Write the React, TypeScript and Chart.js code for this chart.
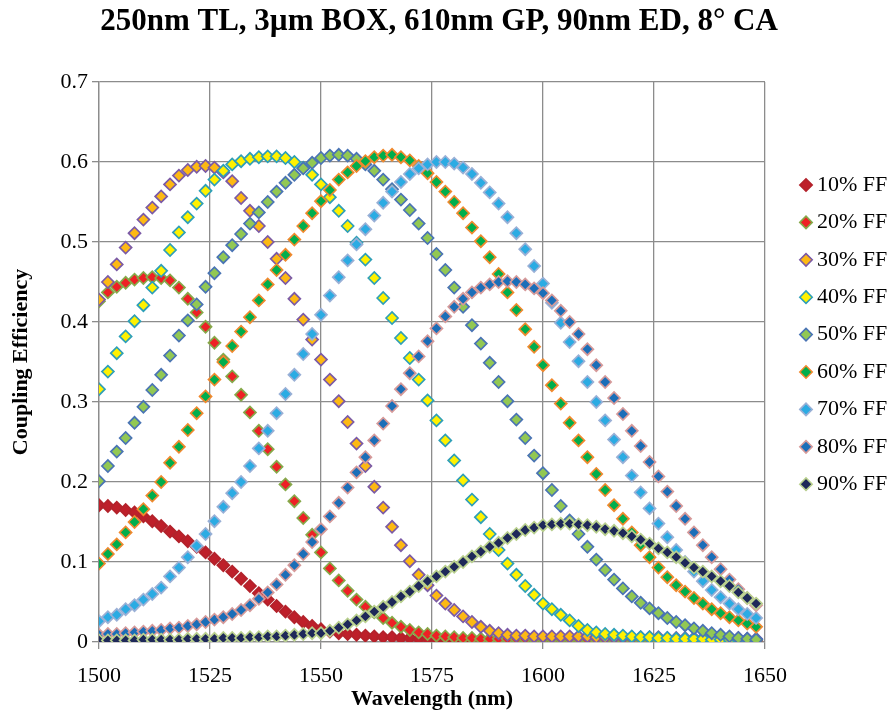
import React, { useEffect, useRef } from 'react';
import { Chart, registerables } from 'chart.js';

Chart.register(...registerables);

const titleText = '250nm TL, 3µm BOX, 610nm GP, 90nm ED, 8° CA';
const xTitle = 'Wavelength (nm)';
const yTitle = 'Coupling Efficiency';

const wavelengths = [
  1500, 1502, 1504, 1506, 1508, 1510, 1512, 1514, 1516, 1518,
  1520, 1522, 1524, 1526, 1528, 1530, 1532, 1534, 1536, 1538,
  1540, 1542, 1544, 1546, 1548, 1550, 1552, 1554, 1556, 1558,
  1560, 1562, 1564, 1566, 1568, 1570, 1572, 1574, 1576, 1578,
  1580, 1582, 1584, 1586, 1588, 1590, 1592, 1594, 1596, 1598,
  1600, 1602, 1604, 1606, 1608, 1610, 1612, 1614, 1616, 1618,
  1620, 1622, 1624, 1626, 1628, 1630, 1632, 1634, 1636, 1638,
  1640, 1642, 1644, 1646, 1648,
];

const xTickValues = [1500, 1525, 1550, 1575, 1600, 1625, 1650];
const yTickValues = [0, 0.1, 0.2, 0.3, 0.4, 0.5, 0.6, 0.7];

const seriesLabels = ['10% FF', '20% FF', '30% FF', '40% FF', '50% FF', '60% FF', '70% FF', '80% FF', '90% FF'];

const ff10 = [
  0.171, 0.170, 0.168, 0.165, 0.162, 0.157, 0.151, 0.145, 0.138, 0.132,
  0.126, 0.119, 0.112, 0.104, 0.096, 0.088, 0.079, 0.070, 0.061, 0.053,
  0.045, 0.038, 0.031, 0.025, 0.020, 0.016, 0.013, 0.011, 0.010, 0.009,
  0.008, 0.007, 0.006, 0.006, 0.005, 0.005, 0.004, 0.004, 0.004, 0.003,
  0.003, 0.003, 0.003, 0.003, 0.003, 0.003, 0.003, 0.003, 0.003, 0.003,
  0.003, 0.003, 0.003, 0.002, 0.002, 0.002, 0.002, 0.002, 0.002, 0.002,
  0.002, 0.002, 0.002, 0.002, 0.002, 0.002, 0.002, 0.002, 0.002, 0.002,
  0.002, 0.002, 0.002, 0.002, 0.002,
];
const ff20 = [
  0.426, 0.437, 0.444, 0.449, 0.453, 0.455, 0.456, 0.455, 0.452, 0.443,
  0.429, 0.412, 0.394, 0.374, 0.353, 0.332, 0.309, 0.287, 0.264, 0.241,
  0.219, 0.197, 0.176, 0.155, 0.134, 0.112, 0.092, 0.077, 0.064, 0.053,
  0.044, 0.037, 0.030, 0.024, 0.019, 0.015, 0.012, 0.010, 0.008, 0.007,
  0.006, 0.005, 0.005, 0.004, 0.004, 0.004, 0.004, 0.004, 0.004, 0.004,
  0.004, 0.004, 0.004, 0.004, 0.004, 0.003, 0.003, 0.003, 0.003, 0.003,
  0.003, 0.003, 0.003, 0.003, 0.003, 0.003, 0.003, 0.003, 0.003, 0.003,
  0.003, 0.003, 0.003, 0.003, 0.003,
];
const ff30 = [
  0.428, 0.450, 0.472, 0.493, 0.511, 0.528, 0.543, 0.557, 0.572, 0.583,
  0.590, 0.594, 0.595, 0.593, 0.587, 0.576, 0.555, 0.539, 0.520, 0.500,
  0.479, 0.455, 0.429, 0.403, 0.378, 0.353, 0.328, 0.301, 0.275, 0.248,
  0.220, 0.194, 0.168, 0.144, 0.121, 0.101, 0.084, 0.071, 0.058, 0.048,
  0.040, 0.032, 0.025, 0.019, 0.014, 0.011, 0.009, 0.008, 0.008, 0.007,
  0.007, 0.007, 0.007, 0.007, 0.007, 0.007, 0.006, 0.006, 0.006, 0.006,
  0.006, 0.006, 0.006, 0.006, 0.005, 0.005, 0.005, 0.005, 0.005, 0.005,
  0.005, 0.005, 0.005, 0.004, 0.004,
];
const ff40 = [
  0.316, 0.338, 0.361, 0.382, 0.401, 0.421, 0.443, 0.464, 0.490, 0.512,
  0.531, 0.548, 0.564, 0.578, 0.589, 0.597, 0.601, 0.604, 0.606, 0.607,
  0.607, 0.605, 0.600, 0.593, 0.584, 0.572, 0.556, 0.539, 0.520, 0.499,
  0.478, 0.455, 0.430, 0.405, 0.380, 0.355, 0.328, 0.302, 0.277, 0.252,
  0.227, 0.202, 0.178, 0.156, 0.135, 0.115, 0.098, 0.084, 0.070, 0.059,
  0.048, 0.041, 0.034, 0.027, 0.020, 0.015, 0.012, 0.010, 0.009, 0.008,
  0.007, 0.006, 0.006, 0.005, 0.005, 0.004, 0.004, 0.004, 0.004, 0.003,
  0.003, 0.003, 0.003, 0.003, 0.003,
];
const ff50 = [
  0.201, 0.220, 0.238, 0.255, 0.274, 0.294, 0.315, 0.334, 0.358, 0.383,
  0.402, 0.422, 0.444, 0.461, 0.481, 0.496, 0.510, 0.523, 0.537, 0.550,
  0.563, 0.574, 0.584, 0.592, 0.599, 0.605, 0.608, 0.609, 0.608, 0.604,
  0.597, 0.589, 0.578, 0.566, 0.553, 0.540, 0.523, 0.505, 0.485, 0.465,
  0.443, 0.419, 0.396, 0.373, 0.349, 0.325, 0.301, 0.278, 0.255, 0.233,
  0.211, 0.190, 0.170, 0.152, 0.135, 0.119, 0.103, 0.090, 0.078, 0.067,
  0.057, 0.049, 0.042, 0.036, 0.030, 0.025, 0.021, 0.017, 0.014, 0.011,
  0.009, 0.007, 0.005, 0.004, 0.003,
];
const ff60 = [
  0.098, 0.110, 0.122, 0.137, 0.150, 0.166, 0.183, 0.200, 0.224, 0.244,
  0.265, 0.286, 0.307, 0.328, 0.350, 0.370, 0.388, 0.406, 0.427, 0.447,
  0.465, 0.484, 0.503, 0.520, 0.536, 0.551, 0.565, 0.578, 0.587, 0.595,
  0.601, 0.606, 0.608, 0.609, 0.606, 0.602, 0.595, 0.586, 0.575, 0.563,
  0.550, 0.536, 0.518, 0.501, 0.481, 0.460, 0.437, 0.415, 0.391, 0.369,
  0.346, 0.321, 0.298, 0.274, 0.252, 0.231, 0.210, 0.190, 0.171, 0.154,
  0.137, 0.121, 0.106, 0.093, 0.081, 0.071, 0.063, 0.055, 0.048, 0.041,
  0.036, 0.031, 0.027, 0.023, 0.019,
];
const ff70 = [
  0.026, 0.031, 0.034, 0.041, 0.046, 0.053, 0.060, 0.068, 0.082, 0.093,
  0.106, 0.120, 0.135, 0.151, 0.169, 0.186, 0.200, 0.220, 0.242, 0.264,
  0.286, 0.310, 0.334, 0.360, 0.385, 0.409, 0.433, 0.456, 0.477, 0.497,
  0.516, 0.533, 0.549, 0.563, 0.575, 0.585, 0.592, 0.597, 0.600, 0.600,
  0.598, 0.593, 0.585, 0.574, 0.562, 0.548, 0.531, 0.511, 0.491, 0.470,
  0.448, 0.424, 0.399, 0.375, 0.351, 0.325, 0.300, 0.277, 0.253, 0.231,
  0.208, 0.187, 0.167, 0.148, 0.131, 0.115, 0.100, 0.088, 0.076, 0.065,
  0.056, 0.048, 0.041, 0.035, 0.030,
];
const ff80 = [
  0.009, 0.010, 0.010, 0.011, 0.012, 0.013, 0.014, 0.015, 0.017, 0.018,
  0.020, 0.022, 0.025, 0.028, 0.031, 0.035, 0.040, 0.046, 0.054, 0.062,
  0.072, 0.084, 0.096, 0.110, 0.125, 0.141, 0.157, 0.174, 0.193, 0.212,
  0.231, 0.252, 0.273, 0.295, 0.316, 0.336, 0.357, 0.376, 0.392, 0.407,
  0.419, 0.429, 0.437, 0.443, 0.447, 0.450, 0.451, 0.450, 0.447, 0.442,
  0.436, 0.427, 0.414, 0.400, 0.385, 0.366, 0.346, 0.325, 0.305, 0.285,
  0.264, 0.245, 0.225, 0.207, 0.188, 0.170, 0.154, 0.137, 0.121, 0.106,
  0.091, 0.078, 0.066, 0.055, 0.046,
];
const ff90 = [
  0.002, 0.002, 0.002, 0.002, 0.002, 0.003, 0.003, 0.003, 0.003, 0.003,
  0.004, 0.004, 0.004, 0.004, 0.005, 0.005, 0.005, 0.006, 0.006, 0.007,
  0.007, 0.008, 0.009, 0.010, 0.011, 0.011, 0.014, 0.018, 0.022, 0.027,
  0.032, 0.038, 0.044, 0.050, 0.057, 0.063, 0.070, 0.076, 0.082, 0.088,
  0.094, 0.100, 0.107, 0.113, 0.119, 0.124, 0.130, 0.135, 0.140, 0.143,
  0.146, 0.147, 0.148, 0.148, 0.147, 0.146, 0.144, 0.141, 0.139, 0.136,
  0.132, 0.128, 0.123, 0.117, 0.112, 0.106, 0.099, 0.093, 0.088, 0.082,
  0.076, 0.070, 0.062, 0.055, 0.048,
];

const seriesValues = [ff10, ff20, ff30, ff40, ff50, ff60, ff70, ff80, ff90];

const fillColors = ['#BE1F2A', '#EE2025', '#FDB913', '#FFF100', '#92C853', '#00AE4D', '#2BABE3', '#1B6EB8', '#1E2859'];
const borderColors = ['#B3222B', '#86A94A', '#7B5AA6', '#2E9FB8', '#4A74B4', '#F0892E', '#9AB0D6', '#D69A9A', '#B9D08E'];

const FONT = "'Liberation Serif', 'Times New Roman', serif";
const GRID = '#8C8C8C';

const legendPlugin = {
  id: 'sideLegend',
  afterDraw(chart: any) {
    const ctx = chart.ctx;
    const area = chart.chartArea;
    ctx.save();
    chart.data.datasets.forEach((ds: any, i: number) => {
      const cx = area.right + 41;
      const cy = 185 + i * 37.4;
      const r = 6.2;
      ctx.beginPath();
      ctx.moveTo(cx - r, cy);
      ctx.lineTo(cx, cy - r);
      ctx.lineTo(cx + r, cy);
      ctx.lineTo(cx, cy + r);
      ctx.closePath();
      ctx.fillStyle = ds.backgroundColor;
      ctx.fill();
      ctx.lineWidth = 1.6;
      ctx.strokeStyle = ds.borderColor;
      ctx.stroke();
      ctx.fillStyle = '#000';
      ctx.font = `22px ${FONT}`;
      ctx.textAlign = 'left';
      ctx.textBaseline = 'middle';
      ctx.fillText(ds.label, cx + 11, cy);
    });
    ctx.restore();
  },
};

export default function App() {
  const ref = useRef<HTMLCanvasElement | null>(null);

  useEffect(() => {
    if (!ref.current) return;
    const datasets = seriesLabels.map((label, i) => ({
      label,
      data: wavelengths.map((x, j) => ({ x, y: seriesValues[i][j] })),
      backgroundColor: fillColors[i],
      borderColor: borderColors[i],
      pointBackgroundColor: fillColors[i],
      pointBorderColor: borderColors[i],
      pointStyle: 'rectRot',
      pointRadius: 6,
      pointHoverRadius: 6,
      pointBorderWidth: 1.7,
      showLine: false,
      order: seriesLabels.length - 1 - i,
    }));

    const chart = new Chart(ref.current, {
      type: 'scatter',
      data: { datasets },
      plugins: [legendPlugin],
      options: {
        responsive: false,
        animation: false,
        devicePixelRatio: 1,
        layout: { padding: { left: 0, right: 13, top: 0, bottom: 0 } },
        elements: { point: { pointStyle: 'rectRot', radius: 6, borderWidth: 1.7 } },
        plugins: {
          legend: { display: false },
          tooltip: { enabled: false },
          title: {
            display: true,
            text: titleText,
            color: '#000',
            font: { family: FONT, size: 31, weight: 'bold' },
            padding: { top: 3, bottom: 41.8 },
          },
        },
        scales: {
          x: {
            type: 'linear',
            min: 1500,
            max: 1650,
            afterBuildTicks: (s: any) => {
              s.ticks = xTickValues.map((v) => ({ value: v }));
            },
            afterFit: (s: any) => {
              s.height = 73;
            },
            ticks: {
              color: '#000',
              font: { family: FONT, size: 22 },
              padding: 14,
              maxRotation: 0,
              autoSkip: false,
              callback: (v: any) => String(v),
            },
            grid: { color: GRID, lineWidth: 1.3, tickLength: 7, tickColor: GRID },
            border: { color: GRID, width: 1.3 },
            title: {
              display: true,
              text: xTitle,
              color: '#000',
              font: { family: FONT, size: 22, weight: 'bold' },
              padding: { top: 0, bottom: 2 },
            },
          },
          y: {
            type: 'linear',
            min: 0,
            max: 0.7,
            afterBuildTicks: (s: any) => {
              s.ticks = yTickValues.map((v) => ({ value: v }));
            },
            afterFit: (s: any) => {
              s.width = 99;
            },
            ticks: {
              color: '#000',
              font: { family: FONT, size: 22 },
              padding: 4,
              autoSkip: false,
              callback: (v: any) => (v === 0 ? '0' : Number(v).toFixed(1)),
            },
            grid: { color: GRID, lineWidth: 1.3, tickLength: 7, tickColor: GRID },
            border: { color: GRID, width: 1.3 },
            title: {
              display: true,
              text: yTitle,
              color: '#000',
              font: { family: FONT, size: 22, weight: 'bold' },
              padding: { top: 8, bottom: 0 },
            },
          },
          legendSpace: {
            type: 'linear',
            position: 'right',
            min: 0,
            max: 1,
            afterFit: (s: any) => {
              s.width = 113;
            },
            ticks: { display: false },
            grid: { display: false, drawTicks: false },
            border: { display: false },
          },
        },
      },
    } as any);

    return () => chart.destroy();
  }, []);

  return (
    <div style={{ position: 'absolute', left: 0, top: 0, width: 891, height: 715, background: '#fff' }}>
      <canvas ref={ref} width={891} height={715} style={{ display: 'block', width: 891, height: 715 }} />
    </div>
  );
}
